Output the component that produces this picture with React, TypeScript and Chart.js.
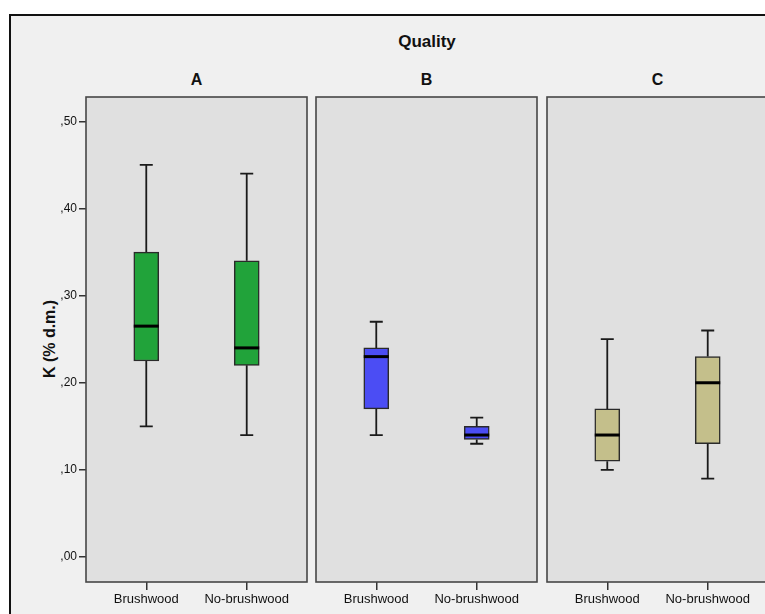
import React, { useEffect, useRef } from "react";
import { Chart, registerables } from "chart.js";

Chart.register(...registerables);

// ---- Data ----
const title = "Quality";
const panelNames = ["A", "B", "C"];
const categories = ["Brushwood", "No-brushwood"];
const yTickValues = [0, 0.1, 0.2, 0.3, 0.4, 0.5];
const yTitle = "K (% d.m.)";

// [panel][category]
const whiskerMin = [
  [0.15, 0.14],
  [0.14, 0.13],
  [0.1, 0.09],
];
const quartile1 = [
  [0.225, 0.22],
  [0.17, 0.135],
  [0.11, 0.13],
];
const medians = [
  [0.265, 0.24],
  [0.23, 0.14],
  [0.14, 0.2],
];
const quartile3 = [
  [0.35, 0.34],
  [0.24, 0.15],
  [0.17, 0.23],
];
const whiskerMax = [
  [0.45, 0.44],
  [0.27, 0.16],
  [0.25, 0.26],
];
const panelColors = ["#21a33a", "#4b4df4", "#c4bf8b"];

// ---- Layout ----
const PANEL_LEFTS = [86, 316, 547];
const PANEL_W = 221;
const PANEL_TOP = 97;
const PANEL_BOTTOM = 582;
const CANVAS_H = 614;
const FONT = "'Liberation Sans', Arial, Helvetica, sans-serif";

function Panel({ index }: { index: number }) {
  const ref = useRef<HTMLCanvasElement | null>(null);
  const first = index === 0;
  const canvasLeft = first ? 0 : PANEL_LEFTS[index] - 10;
  const canvasW = first ? PANEL_LEFTS[0] + PANEL_W + 10 : PANEL_W + 20;

  useEffect(() => {
    if (!ref.current) return;
    const p = index;
    const panelPlugin = {
      id: "panelBg" + p,
      beforeDraw(chart: any) {
        const { ctx, chartArea } = chart;
        ctx.save();
        ctx.fillStyle = "#e0e0e0";
        ctx.fillRect(chartArea.left, chartArea.top, chartArea.right - chartArea.left, chartArea.bottom - chartArea.top);
        ctx.restore();
      },
      afterDatasetsDraw(chart: any) {
        const { ctx } = chart;
        const xs = chart.scales.x;
        const ys = chart.scales.y;
        ctx.save();
        categories.forEach((_, i) => {
          const x = xs.getPixelForValue(i);
          const yMin = ys.getPixelForValue(whiskerMin[p][i]);
          const yQ1 = ys.getPixelForValue(quartile1[p][i]);
          const yMed = ys.getPixelForValue(medians[p][i]);
          const yQ3 = ys.getPixelForValue(quartile3[p][i]);
          const yMax = ys.getPixelForValue(whiskerMax[p][i]);
          ctx.strokeStyle = "#1a1a1a";
          ctx.lineWidth = 1.8;
          ctx.beginPath();
          ctx.moveTo(x, yMin);
          ctx.lineTo(x, yQ1);
          ctx.moveTo(x, yQ3);
          ctx.lineTo(x, yMax);
          ctx.moveTo(x - 6.5, yMin);
          ctx.lineTo(x + 6.5, yMin);
          ctx.moveTo(x - 6.5, yMax);
          ctx.lineTo(x + 6.5, yMax);
          ctx.stroke();
          ctx.strokeStyle = "#000";
          ctx.lineWidth = 3;
          ctx.beginPath();
          ctx.moveTo(x - 12.5, yMed);
          ctx.lineTo(x + 12.5, yMed);
          ctx.stroke();
        });
        ctx.restore();
      },
      afterDraw(chart: any) {
        const { ctx, chartArea } = chart;
        ctx.save();
        ctx.strokeStyle = "#474747";
        ctx.lineWidth = 1.6;
        ctx.strokeRect(chartArea.left, chartArea.top, chartArea.right - chartArea.left, chartArea.bottom - chartArea.top);
        ctx.restore();
      },
    };

    const chart = new Chart(ref.current, {
      type: "bar",
      data: {
        datasets: [
          {
            data: categories.map((_, i) => ({ x: i, y: [quartile1[p][i], quartile3[p][i]] })) as any,
            backgroundColor: panelColors[p],
            borderColor: "#2a2a2a",
            borderWidth: 1.5,
            borderSkipped: false,
            barThickness: 25,
          },
        ],
      },
      options: {
        animation: false,
        responsive: false,
        events: [],
        layout: {
          padding: { top: PANEL_TOP, left: first ? 0 : 10, right: 10, bottom: 0 },
        },
        plugins: {
          legend: { display: false },
          tooltip: { enabled: false },
          title: { display: false },
        },
        scales: {
          x: {
            type: "linear",
            min: -0.6,
            max: 1.6,
            offset: false,
            afterBuildTicks: (scale: any) => {
              scale.ticks = categories.map((_, i) => ({ value: i }));
            },
            afterFit: (scale: any) => {
              scale.height = CANVAS_H - PANEL_BOTTOM;
            },
            ticks: {
              autoSkip: false,
              maxRotation: 0,
              padding: 2,
              color: "#111",
              font: { family: FONT, size: 13 },
              callback: (v: any) => categories[v] ?? "",
            },
            grid: {
              drawOnChartArea: false,
              drawTicks: true,
              tickLength: 8,
              color: "#333",
              lineWidth: 1.5,
              offset: false,
            },
            border: { display: false },
          },
          y: {
            type: "linear",
            display: first,
            min: -0.0287,
            max: 0.528,
            afterBuildTicks: (scale: any) => {
              scale.ticks = yTickValues.map((v) => ({ value: v }));
            },
            afterFit: (scale: any) => {
              scale.width = first ? PANEL_LEFTS[0] : 0;
            },
            ticks: {
              autoSkip: false,
              padding: 2,
              color: "#111",
              font: { family: FONT, size: 12 },
              callback: (v: any) => "," + Number(v).toFixed(2).split(".")[1],
            },
            grid: {
              drawOnChartArea: false,
              drawTicks: true,
              tickLength: 7,
              color: "#333",
              lineWidth: 1.5,
            },
            border: { display: false },
          },
        },
      } as any,
      plugins: [panelPlugin],
    });
    return () => chart.destroy();
  }, [index]);

  return (
    <canvas
      ref={ref}
      width={canvasW}
      height={CANVAS_H}
      style={{ position: "absolute", left: canvasLeft, top: 0, width: canvasW, height: CANVAS_H }}
    />
  );
}

export default function App() {
  return (
    <div
      style={{
        position: "fixed",
        left: 0,
        top: 0,
        width: 765,
        height: 614,
        overflow: "hidden",
        background: "#fff",
        fontFamily: FONT,
      }}
    >
      <div
        style={{
          position: "absolute",
          left: 9,
          top: 14,
          width: 820,
          height: 700,
          border: "2px solid #111",
          background: "#f0f0f0",
        }}
      />
      <div
        style={{
          position: "absolute",
          left: 327,
          top: 32,
          width: 200,
          lineHeight: "20px",
          textAlign: "center",
          fontWeight: "bold",
          fontSize: 17,
          color: "#111",
        }}
      >
        {title}
      </div>
      {panelNames.map((n, i) => (
        <div
          key={n}
          style={{
            position: "absolute",
            left: PANEL_LEFTS[i],
            top: 70,
            width: PANEL_W,
            lineHeight: "20px",
            textAlign: "center",
            fontWeight: "bold",
            fontSize: 16,
            color: "#111",
          }}
        >
          {n}
        </div>
      ))}
      <div
        style={{
          position: "absolute",
          left: -10,
          top: 329,
          width: 120,
          height: 20,
          lineHeight: "20px",
          textAlign: "center",
          fontWeight: "bold",
          fontSize: 16,
          color: "#111",
          transform: "rotate(-90deg)",
          transformOrigin: "50% 50%",
        }}
      >
        {yTitle}
      </div>
      {panelNames.map((n, i) => (
        <Panel key={n} index={i} />
      ))}
    </div>
  );
}
